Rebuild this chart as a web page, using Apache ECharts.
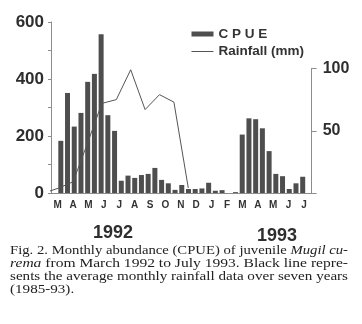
<!DOCTYPE html>
<html>
<head>
<meta charset="utf-8">
<script src="https://cdn.jsdelivr.net/npm/echarts@6/dist/echarts.min.js"></script>
<style>
  html, body { margin: 0; padding: 0; background: #fff; }
  #main { width: 362px; height: 324px; }
</style>
</head>
<body>
<div id="main"></div>
<script>
// month letters under the axis, Mar 1992 .. Jul 1993
var months = ['M', 'A', 'M', 'J', 'J', 'A', 'S', 'O', 'N', 'D', 'J', 'F', 'M', 'A', 'M', 'J', 'J'];
// CPUE, one bar per sampling
var cpue = [183, 351, 233, 281, 390, 418, 557, 273, 218,
            43, 61, 53, 63, 67, 88, 46, 34, 11,
            28, 14, 14, 16, 36, 8, 10, 0, 3,
            205, 262, 259, 227, 147, 67, 59, 14, 34, 57];
// average monthly rainfall (mm), Feb .. Dec
var rainMonths = ['F', 'M', 'A', 'M', 'J', 'J', 'A', 'S', 'O', 'N', 'D'];
var rainfall = [0, 4, 9, 40, 72, 75, 99, 67, 79, 73, 4];
var years = ['1992', '1993'];
var leftTicks = [0, 200, 400, 600];
var rightTicks = [50, 100];

var axisGray = '#8c8c8c';
var ink = '#2e2e2e';

// caption lines, justified like the printed figure
var caption = [
    { a: 'Fig. 2. Monthly abundance (CPUE) of juvenile ', i: 'Mugil cu-', b: '' },
    { a: '', i: 'rema', b: ' from March 1992 to July 1993. Black line repre-' },
    { a: 'sents the average monthly rainfall data over seven years', i: '', b: '' },
    { a: '(1985-93).', i: '', b: '' }
];
var ctx = document.createElement('canvas').getContext('2d');
function textW(s, italic) {
    ctx.font = (italic ? 'italic ' : '') + '12px "Liberation Serif"';
    return ctx.measureText(s).width;
}
var capY = [251, 264, 277, 289.5];
var lastScale = 1.26;
var captionEls = caption.map(function (c, k) {
    var w = textW(c.a, false) + textW(c.i, true) + textW(c.b, false);
    var s = k < 3 ? 338 / w : lastScale;
    lastScale = s;
    return {
        type: 'text',
        x: 10, y: capY[k],
        scaleX: s,
        style: {
            text: c.a + (c.i ? '{i|' + c.i + '}' : '') + c.b,
            fontFamily: 'Liberation Serif',
            fontSize: 12,
            fill: '#222',
            verticalAlign: 'middle',
            rich: { i: { fontStyle: 'italic', fontFamily: 'Liberation Serif', fontSize: 12, fill: '#222' } }
        }
    };
});

var myChart = echarts.init(document.getElementById('main'));
var option = {
    backgroundColor: '#ffffff',
    animation: false,
    legend: {
        orient: 'vertical',
        left: 186.5,
        top: 22,
        itemWidth: 22,
        itemHeight: 5,
        itemGap: 3.5,
        data: [
            { name: 'CPUE', icon: 'rect' },
            { name: 'Rainfall (mm)', icon: 'path://M0,0 L22,0 L22,1 L0,1 Z' }
        ],
        formatter: function (n) { return n === 'CPUE' ? 'C P U E' : n; },
        textStyle: { fontFamily: 'Liberation Sans', fontWeight: 'bold', fontSize: 13.5, color: '#333' }
    },
    grid: [
        { left: 51, right: 50.3, top: 22, bottom: 131, outerBoundsMode: 'none' },
        { left: 51, right: 50.3, top: 68.5, bottom: 131, outerBoundsMode: 'none' },
        { left: 57.6, right: 58, top: 22, bottom: 131, outerBoundsMode: 'none' }
    ],
    xAxis: [
        {
            gridIndex: 0, type: 'value', min: -1.46, max: 37.34,
            axisLine: { show: true, onZero: false, lineStyle: { color: axisGray, width: 1 } },
            axisTick: { show: false }, axisLabel: { show: false }, splitLine: { show: false }
        },
        {
            gridIndex: 1, type: 'value', min: -0.535, max: 17.57, show: false
        },
        {
            gridIndex: 2, type: 'category', data: months, boundaryGap: false,
            axisLine: { show: false }, axisTick: { show: false },
            axisLabel: {
                interval: 0, margin: 7,
                fontFamily: 'Liberation Sans', fontWeight: 'bold', fontSize: 10, color: '#333'
            },
            splitLine: { show: false }
        }
    ],
    yAxis: [
        {
            gridIndex: 0, type: 'value', min: 0, max: 600, interval: 100,
            axisLine: { show: true, onZero: false, lineStyle: { color: axisGray, width: 1 } },
            axisTick: { show: true, length: 3, lineStyle: { color: axisGray } },
            axisLabel: {
                margin: 7,
                fontFamily: 'Liberation Sans', fontWeight: 'bold', fontSize: 17, color: ink,
                formatter: function (v) { return leftTicks.indexOf(v) >= 0 ? String(v) : ''; }
            },
            splitLine: { show: false }
        },
        {
            gridIndex: 1, type: 'value', position: 'right', min: 0, max: 100, interval: 50,
            axisLine: { show: true, onZero: false, lineStyle: { color: axisGray, width: 1 } },
            axisTick: { show: true, length: 5, lineStyle: { color: axisGray } },
            axisLabel: {
                margin: 11,
                fontFamily: 'Liberation Sans', fontWeight: 'bold', fontSize: 16, color: ink,
                formatter: function (v) { return rightTicks.indexOf(v) >= 0 ? String(v) : ''; }
            },
            splitLine: { show: false }
        },
        { gridIndex: 2, type: 'value', show: false }
    ],
    graphic: [
        {
            type: 'text', x: 113, y: 233,
            style: { text: years[0], fontFamily: 'Liberation Sans', fontWeight: 'bold', fontSize: 18,
                     fill: ink, align: 'center', verticalAlign: 'middle' }
        },
        {
            type: 'text', x: 277, y: 236,
            style: { text: years[1], fontFamily: 'Liberation Sans', fontWeight: 'bold', fontSize: 18,
                     fill: ink, align: 'center', verticalAlign: 'middle' }
        }
    ].concat(captionEls),
    series: [
        {
            name: 'CPUE',
            type: 'bar',
            xAxisIndex: 0, yAxisIndex: 0,
            barWidth: 5,
            itemStyle: { color: '#4e4e4e' },
            data: cpue.map(function (v, i) { return [i, v]; })
        },
        {
            name: 'Rainfall (mm)',
            type: 'line',
            xAxisIndex: 1, yAxisIndex: 1,
            symbol: 'none',
            lineStyle: { color: '#555', width: 1 },
            itemStyle: { color: '#555' },
            data: rainfall.map(function (v, i) { return [i - 1, v]; })
        }
    ]
};
myChart.setOption(option);
window.addEventListener('resize', function () {
    myChart.resize();
});
</script>
</body>
</html>
